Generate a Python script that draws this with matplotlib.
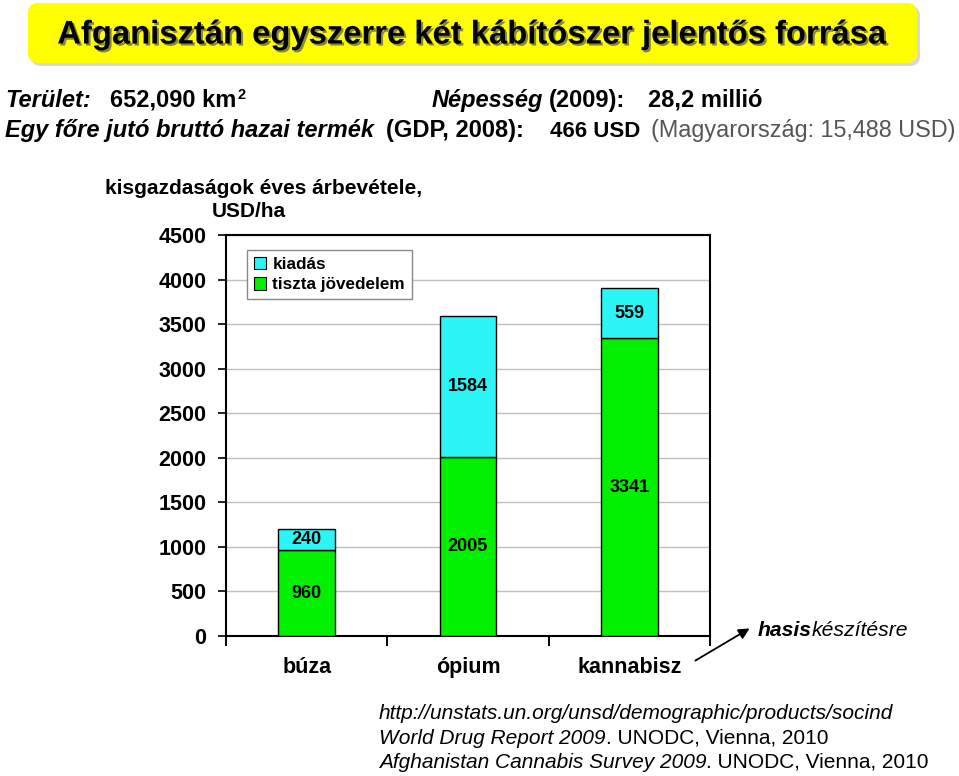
import matplotlib
matplotlib.use("Agg")
import matplotlib.pyplot as plt
import matplotlib.patheffects as pe
from matplotlib.patches import FancyBboxPatch, Patch
from matplotlib.transforms import IdentityTransform

categories = ["búza", "ópium", "kannabisz"]
tiszta_jovedelem = [960, 2005, 3341]
kiadas = [240, 1584, 559]
y_ticks = [0, 500, 1000, 1500, 2000, 2500, 3000, 3500, 4000, 4500]

CYAN = "#2CF5F5"
GREEN = "#00F000"
FONT = "Liberation Sans"
W, H = 959, 776

plt.rcParams["font.family"] = [FONT, "DejaVu Sans"]

fig = plt.figure(figsize=(W / 100, H / 100), dpi=100)
renderer = fig.canvas.get_renderer()


def put(x, y_base, parts):
    # write text runs one after the other, pixel coords from the top left,
    # y is the baseline
    for s, gap, kw in parts:
        x += gap
        t = fig.text(x, H - y_base, s, transform=IdentityTransform(),
                     va="baseline", ha="left", **kw)
        x = t.get_window_extent(renderer).x1
    return x


# title box
shadow = FancyBboxPatch((0.31, 7.10), 8.89, 0.60, boxstyle="round,pad=0,rounding_size=0.1",
                        transform=fig.dpi_scale_trans, facecolor="#d8d8d8",
                        edgecolor="none", zorder=0)
box = FancyBboxPatch((0.28, 7.13), 8.89, 0.60, boxstyle="round,pad=0,rounding_size=0.1",
                     transform=fig.dpi_scale_trans, facecolor="#FFFF00",
                     edgecolor="none", zorder=1)
fig.patches.extend([shadow, box])
fig.text(471 / W, 1 - 35 / H, "Afganisztán egyszerre két kábítószer jelentős forrása",
         ha="center", va="center", fontsize=23.6, fontweight="bold", zorder=2,
         path_effects=[pe.withSimplePatchShadow(offset=(1.5, -1.5),
                                                shadow_rgbFace="#555555", alpha=0.7)])

# info lines
S = 17
put(5, 107, [("Terület:", 0, dict(fontsize=S, fontweight="bold", style="italic"))])
x = put(110, 107, [("652,090 km", 0, dict(fontsize=S, fontweight="bold"))])
put(x + 1, 99, [("2", 0, dict(fontsize=10.5, fontweight="bold"))])
put(432, 107, [("Népesség", 0, dict(fontsize=S, fontweight="bold", style="italic")),
               ("(2009):", 6, dict(fontsize=S, fontweight="bold"))])
put(648, 107, [("28,2 millió", 0, dict(fontsize=S, fontweight="bold"))])
put(5, 137, [("Egy főre jutó bruttó hazai termék", 0,
              dict(fontsize=S, fontweight="bold", style="italic"))])
put(386, 137, [("(GDP, 2008):", 0, dict(fontsize=S, fontweight="bold"))])
put(550, 137, [("466 USD", 0, dict(fontsize=16, fontweight="bold"))])
put(651, 137, [("(Magyarország: 15,488 USD)", 0, dict(fontsize=16.8, color="#555555"))])

# chart
ax = fig.add_axes([226 / W, 1 - 636 / H, 484 / W, 401 / H])
xs = range(len(categories))
ax.bar(xs, tiszta_jovedelem, width=0.35, color=GREEN, edgecolor="black",
       linewidth=1, zorder=3, label="tiszta jövedelem")
ax.bar(xs, kiadas, width=0.35, bottom=tiszta_jovedelem, color=CYAN,
       edgecolor="black", linewidth=1, zorder=3, label="kiadás")
for i in xs:
    ax.text(i, tiszta_jovedelem[i] / 2, str(tiszta_jovedelem[i]), ha="center",
            va="center", fontsize=13, fontweight="bold", zorder=4)
    ax.text(i, tiszta_jovedelem[i] + kiadas[i] / 2, str(kiadas[i]), ha="center",
            va="center", fontsize=13, fontweight="bold", zorder=4)

ax.set_xlim(-0.5, 2.5)
ax.set_ylim(0, 4500)
ax.set_yticks(y_ticks)
ax.set_yticklabels([str(v) for v in y_ticks], fontsize=15.5, fontweight="bold")
ax.set_xticks(list(xs))
ax.set_xticklabels(categories, fontsize=15.5, fontweight="bold")
ax.set_xticks([-0.5, 0.5, 1.5, 2.5], minor=True)
ax.tick_params(axis="x", which="major", length=0, pad=15)
ax.tick_params(axis="x", which="minor", length=7, width=1.4, direction="out")
ax.tick_params(axis="y", length=6, width=1.2, direction="out", pad=8)
ax.yaxis.grid(True, color="#c0c0c0", linewidth=1, zorder=0)
ax.set_axisbelow(True)
for sp in ax.spines.values():
    sp.set_linewidth(1.5)

handles = [Patch(facecolor=CYAN, edgecolor="black", linewidth=0.8),
           Patch(facecolor=GREEN, edgecolor="black", linewidth=0.8)]
leg = ax.legend(handles, ["kiadás", "tiszta jövedelem"], loc="upper left",
                bbox_to_anchor=(0.043, 0.963), borderaxespad=0, fancybox=False,
                framealpha=1, edgecolor="#888888", handlelength=0.75,
                handleheight=0.75, handletextpad=0.35, borderpad=0.4,
                labelspacing=0.3, prop=dict(family=FONT, weight="bold", size=12.3))
leg.get_frame().set_linewidth(1)

# y label
fig.text(264 / W, 1 - 188 / H, "kisgazdaságok éves árbevétele,", ha="center",
         va="center", fontsize=15, fontweight="bold")
fig.text(249 / W, 1 - 212 / H, "USD/ha", ha="center", va="center",
         fontsize=15, fontweight="bold")

# arrow and note
ax.annotate("", xy=(752 / W, 1 - 627 / H), xytext=(693 / W, 1 - 662 / H),
            xycoords="figure fraction", textcoords="figure fraction",
            arrowprops=dict(arrowstyle="-|>", color="black", lw=1.3,
                            mutation_scale=16))
put(758, 636, [("hasis", 0, dict(fontsize=15.2, fontweight="bold", style="italic")),
               ("készítésre", 0, dict(fontsize=15.2, style="italic"))])

# sources
SS = 15
put(379, 719, [("http://unstats.un.org/unsd/demographic/products/socind", 0,
                dict(fontsize=SS, style="italic"))])
put(379, 744, [("World Drug Report 2009", 0, dict(fontsize=SS, style="italic")),
               (". UNODC, Vienna, 2010", 0, dict(fontsize=SS))])
put(379, 768, [("Afghanistan Cannabis Survey 2009", 0, dict(fontsize=SS, style="italic")),
               (". UNODC, Vienna, 2010", 0, dict(fontsize=SS))])

fig.savefig("out.png", dpi=100)
